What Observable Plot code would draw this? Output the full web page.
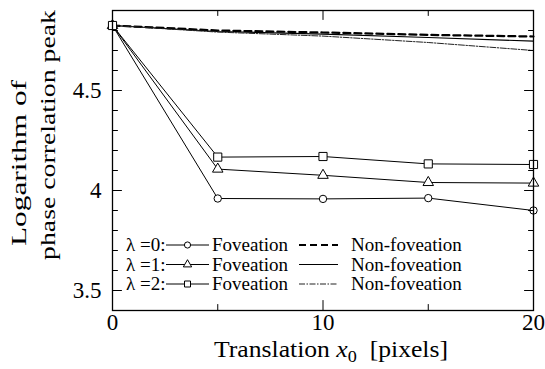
<!DOCTYPE html>
<html><head><meta charset="utf-8">
<script src="https://cdn.jsdelivr.net/npm/d3@7"></script>
<script src="https://cdn.jsdelivr.net/npm/@observablehq/plot@0.6"></script>
<style>body{margin:0;background:#fff} #chart{width:545px;height:369px}</style>
</head><body><div id="chart"></div>
<script>
const xs = [0, 5, 10, 15, 20];
const fov0 = [4.825, 3.960, 3.958, 3.962, 3.900];
const fov1 = [4.825, 4.107, 4.076, 4.040, 4.037];
const fov2 = [4.825, 4.167, 4.170, 4.133, 4.130];
const non0 = [4.825, 4.800, 4.790, 4.778, 4.770];
const non1 = [4.825, 4.795, 4.782, 4.765, 4.747];
const non2 = [4.825, 4.792, 4.772, 4.740, 4.700];
const yMajor = [3.5, 4, 4.5];
const yMinor = [3.6, 3.7, 3.8, 3.9, 4.1, 4.2, 4.3, 4.4, 4.6, 4.7, 4.8];
const xMajor = [0, 10, 20];
const xMinor = [5, 15];
const legendRows = ["λ =0:", "λ =1:", "λ =2:"];
const fovLabel = "Foveation";
const nonLabel = "Non-foveation";

const FONT = "Liberation Serif";
const toRows = (ys) => xs.map((x, i) => ({x, y: ys[i]}));
const tickShape = {draw(ctx, l) { ctx.moveTo(0, 0); ctx.lineTo(0, -l); }};
const tk = (data, opts) => Plot.vector(data, {anchor: "start", shape: tickShape, stroke: "black", strokeWidth: 1, ...opts});

const fovSeries = [
  {data: toRows(fov0), symbol: "circle", r: 3.7},
  {data: toRows(fov1), symbol: "triangle", r: 3.9},
  {data: toRows(fov2), symbol: "square", r: 4.6}
];
const nonSeries = [
  {data: toRows(non0), strokeWidth: 2.2, strokeDasharray: "7,4", stroke: "#000"},
  {data: toRows(non1), strokeWidth: 1.2, strokeDasharray: null, stroke: "#000"},
  {data: toRows(non2), strokeWidth: 1, strokeDasharray: "6,1.5,1.5,1.5", stroke: "#222"}
];

const marks = [];
nonSeries.forEach(s => marks.push(Plot.line(s.data, {x: "x", y: "y", stroke: s.stroke, strokeWidth: s.strokeWidth, strokeDasharray: s.strokeDasharray})));
fovSeries.forEach(s => marks.push(Plot.line(s.data, {x: "x", y: "y", stroke: "black", strokeWidth: 1})));
fovSeries.forEach(s => marks.push(Plot.dot(s.data, {x: "x", y: "y", symbol: s.symbol, r: s.r, fill: "white", stroke: "black", strokeWidth: 1})));

marks.push(
  tk(yMajor, {x: 0, y: d => d, length: 9, rotate: 90}),
  tk(yMinor, {x: 0, y: d => d, length: 5, rotate: 90}),
  tk(yMajor, {x: 20, y: d => d, length: 9, rotate: -90}),
  tk(yMinor, {x: 20, y: d => d, length: 5, rotate: -90}),
  tk(xMajor, {x: d => d, y: 3.4, length: 10, rotate: 0}),
  tk(xMinor, {x: d => d, y: 3.4, length: 6, rotate: 0}),
  tk(xMajor, {x: d => d, y: 4.9, length: 9, rotate: 180}),
  tk(xMinor, {x: d => d, y: 4.9, length: 5, rotate: 180}),
  Plot.axisY(yMajor, {tickSize: 0, tickPadding: 11, fontSize: 23, tickFormat: d => String(d), label: null}),
  Plot.axisX(xMajor, {tickSize: 0, tickPadding: 3, fontSize: 23, tickFormat: d => String(d), label: null}),
  Plot.frame({stroke: "black", strokeWidth: 1.3})
);

const plot = Plot.plot({
  width: 545, height: 369,
  marginLeft: 112, marginRight: 12, marginTop: 10, marginBottom: 59,
  style: {color: "black", background: "white", overflow: "visible"},
  x: {domain: [0, 20]},
  y: {domain: [3.4, 4.9]},
  marks
});
document.getElementById("chart").appendChild(plot);

const svg = d3.select(plot);
// y label (two lines)
svg.append("text")
  .attr("transform", "translate(26,163) rotate(-90)")
  .attr("text-anchor", "middle").attr("font-size", 22).attr("fill", "black")
  .attr("textLength", 166).attr("lengthAdjust", "spacingAndGlyphs")
  .text("Logarithm of");
svg.append("text")
  .attr("transform", "translate(55,135) rotate(-90)")
  .attr("text-anchor", "middle").attr("font-size", 22).attr("fill", "black")
  .attr("textLength", 250).attr("lengthAdjust", "spacingAndGlyphs")
  .text("phase correlation peak");
// x label
const xl = svg.append("text")
  .attr("x", 331).attr("y", 357)
  .attr("text-anchor", "middle").attr("font-size", 24).attr("fill", "black")
  .attr("textLength", 234).attr("lengthAdjust", "spacingAndGlyphs");
xl.append("tspan").text("Translation ");
xl.append("tspan").attr("font-style", "italic").text("x");
xl.append("tspan").attr("font-size", 17).attr("dy", 5).text("0");
xl.append("tspan").attr("dy", -5).text("\u00a0\u00a0[pixels]");

// legend
const lg = svg.append("g").attr("font-size", 19).attr("fill", "black").attr("text-anchor", "start");
const rowY = [245, 264.5, 284];
legendRows.forEach((lab, i) => {
  const y = rowY[i];
  lg.append("text").attr("x", 126).attr("y", y).attr("dy", "0.32em").text(lab);
  lg.append("line").attr("x1", 166).attr("x2", 209).attr("y1", y).attr("y2", y).attr("stroke", "black").attr("stroke-width", 1);
  const sym = d3.symbol().type([d3.symbolCircle, d3.symbolTriangle, d3.symbolSquare][i]).size(i === 0 ? 30 : i === 1 ? 30 : 36);
  lg.append("path").attr("d", sym()).attr("transform", `translate(187.5,${y})`).attr("fill", "white").attr("stroke", "black");
  lg.append("text").attr("x", 212).attr("y", y).attr("dy", "0.32em").text(fovLabel);
  const s = nonSeries[i];
  lg.append("line").attr("x1", 299).attr("x2", 338).attr("y1", y).attr("y2", y)
    .attr("stroke", s.stroke).attr("stroke-width", s.strokeWidth).attr("stroke-dasharray", s.strokeDasharray);
  lg.append("text").attr("x", 351).attr("y", y).attr("dy", "0.32em").text(nonLabel);
});
svg.attr("font-family", FONT);
svg.selectAll("g, text, tspan").attr("font-family", FONT);
</script></body></html>
